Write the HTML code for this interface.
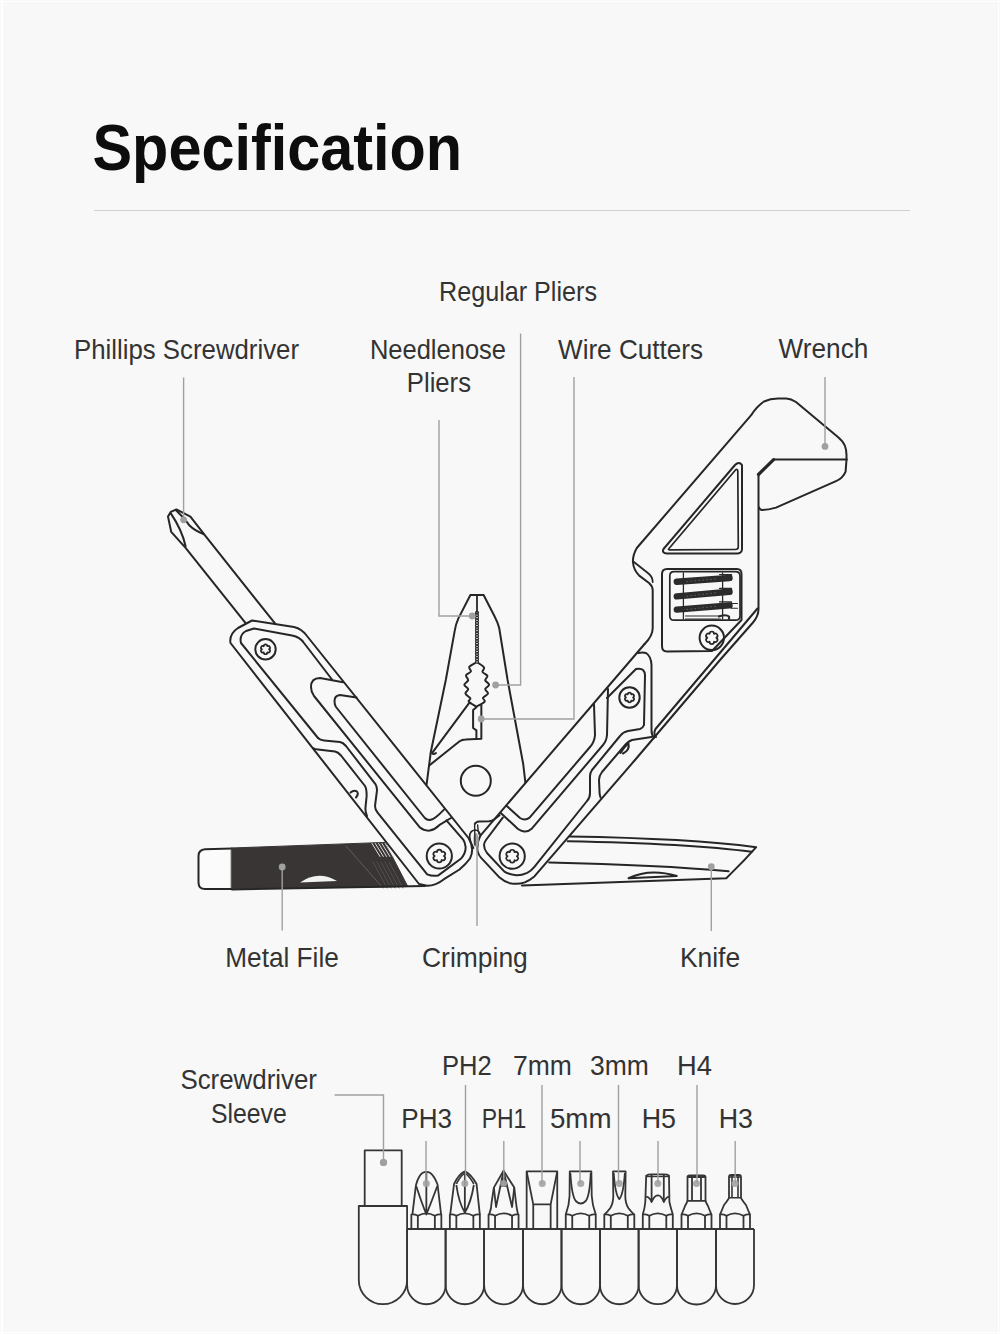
<!DOCTYPE html>
<html><head><meta charset="utf-8">
<style>
html,body{margin:0;padding:0;background:#f8f8f8;}
body{width:1000px;height:1334px;overflow:hidden;position:relative;}
svg{position:absolute;left:0;top:0;}
text{font-family:"Liberation Sans",sans-serif;}
</style></head><body>
<svg width="1000" height="1334" viewBox="0 0 1000 1334">
<rect x="0" y="0" width="1000" height="1334" fill="#f8f8f8"/>
<g id="frame" fill="#ffffff"><rect x="0" y="1" width="1000" height="1"/><rect x="1" y="0" width="2" height="1334"/><rect x="998" y="0" width="1" height="1334"/><rect x="0" y="1332" width="1000" height="1"/></g>
<!-- title -->
<text x="92.5" y="169.5" font-size="64.5" font-weight="700" fill="#0d0d0d" textLength="369.6" lengthAdjust="spacingAndGlyphs">Specification</text>
<line x1="94" y1="210.5" x2="910" y2="210.5" stroke="#cfcfcf" stroke-width="1.2"/>
<!-- labels -->
<g fill="#333333" font-size="27.5">
<text x="74.0" y="358.5" textLength="225.0" lengthAdjust="spacingAndGlyphs">Phillips Screwdriver</text>
<text x="369.9" y="358.5" textLength="136.1" lengthAdjust="spacingAndGlyphs">Needlenose</text>
<text x="406.8" y="391.5" textLength="64.2" lengthAdjust="spacingAndGlyphs">Pliers</text>
<text x="439.0" y="301" textLength="158.0" lengthAdjust="spacingAndGlyphs">Regular Pliers</text>
<text x="558.0" y="358.5" textLength="145.0" lengthAdjust="spacingAndGlyphs">Wire Cutters</text>
<text x="778.6" y="358" textLength="89.7" lengthAdjust="spacingAndGlyphs">Wrench</text>
<text x="225.3" y="967.4" textLength="113.5" lengthAdjust="spacingAndGlyphs">Metal File</text>
<text x="422.0" y="967.4" textLength="105.8" lengthAdjust="spacingAndGlyphs">Crimping</text>
<text x="679.9" y="967.4" textLength="60.2" lengthAdjust="spacingAndGlyphs">Knife</text>
<text x="180.4" y="1089" textLength="136.6" lengthAdjust="spacingAndGlyphs">Screwdriver</text>
<text x="211.0" y="1122.5" textLength="75.8" lengthAdjust="spacingAndGlyphs">Sleeve</text>
<text x="441.9" y="1075" textLength="49.8" lengthAdjust="spacingAndGlyphs">PH2</text>
<text x="513.0" y="1075" textLength="58.9" lengthAdjust="spacingAndGlyphs">7mm</text>
<text x="590.0" y="1075" textLength="58.9" lengthAdjust="spacingAndGlyphs">3mm</text>
<text x="677.1" y="1075" textLength="34.9" lengthAdjust="spacingAndGlyphs">H4</text>
<text x="401.3" y="1127.5" textLength="50.7" lengthAdjust="spacingAndGlyphs">PH3</text>
<text x="481.7" y="1127.5" textLength="44.7" lengthAdjust="spacingAndGlyphs">PH1</text>
<text x="549.9" y="1127.5" textLength="61.6" lengthAdjust="spacingAndGlyphs">5mm</text>
<text x="641.7" y="1127.5" textLength="34.3" lengthAdjust="spacingAndGlyphs">H5</text>
<text x="718.7" y="1127.5" textLength="34.3" lengthAdjust="spacingAndGlyphs">H3</text>
</g>
<!--TOOL-->
<g fill="none" stroke="#262626" stroke-width="2" stroke-linejoin="round" stroke-linecap="round">
<path d="M232,848.5 L205,849.2 Q198.5,849.7 198.5,856 L198.5,882.5 Q198.5,889 205,889 L232,889" fill="#fbfbfb"/>
<path d="M231.6,848 L385,842.4 L392,856 L407.8,886.5 L231.6,888.8 Z" fill="#3a3535" stroke="#3a3535" stroke-width="1"/>
<line x1="372.0" y1="843.5" x2="380.0" y2="856.5" stroke="#dcdcdc" stroke-width="1"/>
<line x1="375.3" y1="843.5" x2="383.3" y2="856.5" stroke="#dcdcdc" stroke-width="1"/>
<line x1="378.6" y1="843.5" x2="386.6" y2="856.5" stroke="#dcdcdc" stroke-width="1"/>
<line x1="381.9" y1="843.5" x2="389.9" y2="856.5" stroke="#dcdcdc" stroke-width="1"/>
<line x1="385.2" y1="843.5" x2="393.2" y2="856.5" stroke="#dcdcdc" stroke-width="1"/>
<line x1="388.5" y1="843.5" x2="396.5" y2="856.5" stroke="#dcdcdc" stroke-width="1"/>
<line x1="373" y1="862" x2="387" y2="888" stroke="#5a5555" stroke-width="0.8"/>
<line x1="377" y1="862" x2="391" y2="888" stroke="#5a5555" stroke-width="0.8"/>
<line x1="381" y1="862" x2="395" y2="888" stroke="#5a5555" stroke-width="0.8"/>
<line x1="385" y1="862" x2="399" y2="888" stroke="#5a5555" stroke-width="0.8"/>
<line x1="389" y1="862" x2="403" y2="888" stroke="#5a5555" stroke-width="0.8"/>
<path d="M346,846 L383,888" stroke="#666060" stroke-width="0.9"/>
<path d="M232,889.5 L425,886" />
<path d="M300,882.5 Q318,870 337,881 Z" fill="#f2f2f2" stroke="none"/>
<path d="M245.6,623.2 L185.6,547.8 L171.2,531.8 L168,516.6 L170.8,511.8 L176.4,509.4 L190.4,516.6 L204,534.2 L275.2,623.7" />
<path d="M170.8,513.4 Q182,530 185.6,546.2" />
<path d="M176,510.2 Q186,520 189,525 Q195,531 204,534.2" />
<path d="M419,884 L230.5,643 Q229,634 238,628 L252,620.5 L294,627 Q302,629 307,636 L468.5,838 Q475,848.5 470,858.5 Q466,864 459.5,869.5 L444,879.2 Q436,885.5 427.2,885.8 Z" fill="#f8f8f8"/>
<path d="M318,738 L241,643 Q239,635 246,631 L254,628.5 L292,635.5 Q300,637 304,643 L332,679.5" />
<path d="M318,738 Q320,740 324,740.4 L340,742 Q343,742.5 346,746 L375.6,784.4 Q377.5,788 376.8,792 L375,806 Q375,810 378,813.2 L427.2,874.4 Q432,876.5 438,875.6 L460.8,858.8 Q466,853 465.6,846.8 Q465,842 463.2,839.6 L446.4,820.4" />
<path d="M313,748 Q315,749.3 318,749.5 L335,751.5 Q338,752 341,755.5 L365,786 Q366.8,789 366.6,796.4 L365.4,808.4 Q365.5,813 367,816" />
<path d="M350.5,792.5 Q354,789.5 357,791.5 Q359,794 356,797.5" />
<path d="M343,682.2 L320,678 Q311,678 311,687 Q311,692 314,696 L420,827.6 Q424,831 429.6,830.6 Q435,829.5 439.2,825.2 L451,818" />
<path d="M356.5,697.5 L340,695 Q334.5,695.5 334.5,701 Q334.5,705 336,707 L424.8,818 Q427.5,820.5 430.8,819.8 Q435,819 444,809.6" />
<circle cx="265.5" cy="649.3" r="10.2"/>
<path d="M263.73,646.24 C263.80,643.73 267.20,643.73 267.27,646.24 C269.47,645.04 271.17,647.99 269.04,649.30 C271.17,650.61 269.47,653.56 267.27,652.36 C267.20,654.87 263.80,654.87 263.73,652.36 C261.53,653.56 259.83,650.61 261.96,649.30 C259.83,647.99 261.53,645.04 263.73,646.24 Z" stroke-width="1.7"/>
<circle cx="439.3" cy="856" r="12.6"/>
<path d="M436.99,852.00 C437.07,848.72 441.53,848.72 441.61,852.00 C444.49,850.43 446.72,854.29 443.92,856.00 C446.72,857.71 444.49,861.57 441.61,860.00 C441.53,863.28 437.07,863.28 436.99,860.00 C434.11,861.57 431.88,857.71 434.68,856.00 C431.88,854.29 434.11,850.43 436.99,852.00 Z" stroke-width="1.7"/>
<path d="M426.6,784.4 L430.8,752 L445.8,680 L454.8,630.4 Q455.5,625 458.4,618.4 L470.4,595 L483.6,595 L494.4,616 Q498,623 499.2,628 L507.6,680 L523.2,764 L525.6,784.4" />
<path d="M477,595 L477,612" stroke-width="1.8"/>
<ellipse cx="477" cy="612.50" rx="1.5" ry="1.25" stroke-width="1.2"/>
<ellipse cx="477" cy="615.10" rx="1.5" ry="1.25" stroke-width="1.2"/>
<ellipse cx="477" cy="617.70" rx="1.5" ry="1.25" stroke-width="1.2"/>
<ellipse cx="477" cy="620.30" rx="1.5" ry="1.25" stroke-width="1.2"/>
<ellipse cx="477" cy="622.90" rx="1.5" ry="1.25" stroke-width="1.2"/>
<ellipse cx="477" cy="625.50" rx="1.5" ry="1.25" stroke-width="1.2"/>
<ellipse cx="477" cy="628.10" rx="1.5" ry="1.25" stroke-width="1.2"/>
<ellipse cx="477" cy="630.70" rx="1.5" ry="1.25" stroke-width="1.2"/>
<ellipse cx="477" cy="633.30" rx="1.5" ry="1.25" stroke-width="1.2"/>
<ellipse cx="477" cy="635.90" rx="1.5" ry="1.25" stroke-width="1.2"/>
<ellipse cx="477" cy="638.50" rx="1.5" ry="1.25" stroke-width="1.2"/>
<ellipse cx="477" cy="641.10" rx="1.5" ry="1.25" stroke-width="1.2"/>
<ellipse cx="477" cy="643.70" rx="1.5" ry="1.25" stroke-width="1.2"/>
<ellipse cx="477" cy="646.30" rx="1.5" ry="1.25" stroke-width="1.2"/>
<ellipse cx="477" cy="648.90" rx="1.5" ry="1.25" stroke-width="1.2"/>
<ellipse cx="477" cy="651.50" rx="1.5" ry="1.25" stroke-width="1.2"/>
<ellipse cx="477" cy="654.10" rx="1.5" ry="1.25" stroke-width="1.2"/>
<ellipse cx="477" cy="656.70" rx="1.5" ry="1.25" stroke-width="1.2"/>
<ellipse cx="477" cy="659.30" rx="1.5" ry="1.25" stroke-width="1.2"/>
<ellipse cx="477" cy="661.90" rx="1.5" ry="1.25" stroke-width="1.2"/>
<path d="M475.00,663.20 C474.04,663.83 469.93,665.62 469.25,667.00 C468.57,668.38 471.44,670.12 470.90,671.50 C470.36,672.88 466.45,673.83 466.00,675.30 C465.55,676.77 468.48,678.73 468.20,680.30 C467.92,681.87 464.30,683.23 464.30,684.70 C464.30,686.17 468.02,687.63 468.20,689.10 C468.38,690.57 465.03,691.95 465.40,693.50 C465.77,695.05 469.85,697.03 470.40,698.40 C470.95,699.77 467.70,700.32 468.70,701.70 C469.70,703.08 475.12,705.87 476.40,706.70 M478.60,663.20 C479.52,663.93 483.45,666.13 484.10,667.60 C484.75,669.07 481.95,670.62 482.50,672.00 C483.05,673.38 486.95,674.52 487.40,675.90 C487.85,677.28 484.92,678.83 485.20,680.30 C485.48,681.77 489.10,683.23 489.10,684.70 C489.10,686.17 485.38,687.63 485.20,689.10 C485.02,690.57 488.37,692.03 488.00,693.50 C487.63,694.97 483.55,696.53 483.00,697.90 C482.45,699.27 485.80,700.23 484.70,701.70 C483.60,703.17 477.78,705.87 476.40,706.70" />
<path d="M469.25,702.8 L432,753.2 Q433.5,755 436,753" />
<path d="M429.6,765.2 L459.6,741.2 Q462,739.4 465.6,739.4 L481.35,738.8 L481.35,705" />
<path d="M476.4,707.2 L473.1,710 L473.1,728 L476.4,730.4 L476.4,738.8" />
<circle cx="475.8" cy="780.8" r="15"/>
<path d="M644.6,644 L480.4,835.6 Q477,842 477.4,850 Q478,855 482.8,859.6 L499.6,877.6 Q505,882.5 511.6,883.6 Q519,884.5 524.8,882.4 Q530,880 534.4,876.4 L635,760 L720,660 L753,622.5 Q758.5,616 758.5,609 L758.5,474" fill="#f8f8f8"/>
<path d="M638,653 Q643,652 646,653 Q651,656 651.5,665 L651.5,730 Q651.5,735 654,738" />
<path d="M607,698 L636,669 Q641,668 643,670 Q645,672 645,675 L644,725 Q643,728 640,729 L628,731 Q623,732 620,736 L592,770 Q590,773 590,776 L590,793 Q590,798 587,801 L534.4,866.8 Q531,871 527.2,872.8 Q521,875.5 516.4,875.2 Q509,874.5 504.4,871.6 L487,853 Q484,849 484,845 Q484.5,842 486,840 L502.8,817.6" />
<path d="M651.5,737 L632,740 Q629,741 626,744 L602,772 Q599,776 599,780 L599.6,793.6 Q600,796 600.5,797.5" />
<path d="M620.5,753 Q625,746 628.5,743.5 Q630,750 623,753.5" />
<path d="M594,704.5 L595,735 Q594.5,742 590,747 L529.6,817.6 Q525,821 520,818 L506.8,806" />
<path d="M608,689 L607,735 Q606.5,741 603,745 L532,828.4 Q528,832 524,831.5 Q521,831 518,829 L500.8,813" />
<circle cx="512.2" cy="856.2" r="12.6"/>
<path d="M509.89,852.20 C509.97,848.92 514.43,848.92 514.51,852.20 C517.39,850.63 519.62,854.49 516.82,856.20 C519.62,857.91 517.39,861.77 514.51,860.20 C514.43,863.48 509.97,863.48 509.89,860.20 C507.01,861.77 504.78,857.91 507.58,856.20 C504.78,854.49 507.01,850.63 509.89,852.20 Z" stroke-width="1.7"/>
<circle cx="629.5" cy="697.5" r="10.2"/>
<path d="M627.73,694.44 C627.80,691.93 631.20,691.93 631.27,694.44 C633.47,693.24 635.17,696.19 633.04,697.50 C635.17,698.81 633.47,701.76 631.27,700.56 C631.20,703.07 627.80,703.07 627.73,700.56 C625.53,701.76 623.83,698.81 625.96,697.50 C623.83,696.19 625.53,693.24 627.73,694.44 Z" stroke-width="1.7"/>
<path d="M656,737 Q653,733.5 655.5,729 L757.5,608.5" />
<path d="M474.8,824 Q476,821.6 479,821.4 L489.2,821.2 Q492,821 494,819.5 L499.6,815.2" />
<ellipse cx="476" cy="840" rx="2.8" ry="7" fill="#a9a9a9" stroke="none"/>
<path d="M480.5,836 Q479.5,830 475,830 Q469.8,830.5 469.6,836.5 Q469.8,842 473.5,848" stroke-width="1.7"/>
<path d="M474.6,825 L475,845 M477.6,825 Q478,831 479,834" stroke-width="1.4"/>
<path d="M644.6,644 Q652.7,636 652.7,628 L652.7,590 Q652.5,586 649,583 L639.2,575.6 Q633.5,570 632.9,561.8 Q632.8,555 636.8,548 L751.2,415.1 Q757,406 764,401.5 Q770,398.8 778,398.6 L786.3,398.4 Q791,398.6 796,402 L837.6,436.7 Q843,441 845,446 Q846.5,450 846.5,455 L846.5,459.6 L845.6,471.6 Q843,478 836,481.2 L776,507.6 Q768,510 761.6,510 Q759,509 759.2,507.6" />
<path d="M773.6,459.6 L846.8,459.6" />
<path d="M773.6,459.6 L758.5,474.5" stroke-width="3.2"/>
<path d="M633.3,561.5 L648.5,573.5 Q652.7,577 652.7,582" stroke-width="1.8"/>
<path d="M663.5,549 L735,465 Q739,461 742,465 L742,549 Q742,553 737.5,553.5 L667,553.5 Q661.5,553 663.5,549 Z" />
<path d="M669,548.5 L735.5,470 Q737.5,468.5 737.8,471 L738.3,547 Q738.2,549.5 735.5,549.5 L670.5,549.8 Q667.5,550 669,548.5 Z" stroke-width="1.7"/>
<path d="M662,574 Q662,569 667,569 L737,569 Q741.5,569 741.5,574 L741.5,620 L712,651 L667,651.5 Q662,651.5 662,646 Z" />
<path d="M669.8,576 Q669.8,571.6 674,571.6 L735.5,571.6 Q740,571.6 740,576 L740,616 Q740,620.2 735.5,620.2 L674,620.2 Q669.8,620.2 669.8,616 Z" stroke-width="1.7"/>
<path d="M683.4,573 L683.4,619 M722.6,573 L722.6,619" stroke="#2b2b2b" stroke-width="1.3"/>
<path d="M685.5,616 L720.5,616 M685.5,619 L720.5,619" stroke="#2b2b2b" stroke-width="1"/>
<path d="M676.8,581.8 L729.5,578.0" stroke="#2b2b2b" stroke-width="6.4" stroke-linecap="round"/>
<path d="M686.8,581.5999999999999 L717.5,578.8" stroke="#6a6a6a" stroke-width="0.8" stroke-dasharray="1,3"/>
<path d="M719.5,574.5 L731.5,574.5 L731.5,580.0" stroke="#2b2b2b" stroke-width="1.2"/>
<path d="M676.8,596.4 L729.5,591.8" stroke="#2b2b2b" stroke-width="6.4" stroke-linecap="round"/>
<path d="M686.8,596.1999999999999 L717.5,592.5999999999999" stroke="#6a6a6a" stroke-width="0.8" stroke-dasharray="1,3"/>
<path d="M719.5,588.3 L731.5,588.3 L731.5,593.8" stroke="#2b2b2b" stroke-width="1.2"/>
<path d="M676.8,609.6 L729.5,605.4" stroke="#2b2b2b" stroke-width="6.4" stroke-linecap="round"/>
<path d="M686.8,609.4 L717.5,606.1999999999999" stroke="#6a6a6a" stroke-width="0.8" stroke-dasharray="1,3"/>
<path d="M719.5,601.9 L731.5,601.9 L731.5,607.4" stroke="#2b2b2b" stroke-width="1.2"/>
<path d="M719,616.5 Q726,614 729,616.5 L729,619" stroke="#2b2b2b" stroke-width="2.2"/>
<path d="M731.5,603.5 L737.5,603.5 M731.5,608.2 L737.5,608.2" stroke="#2b2b2b" stroke-width="1.1"/>
<circle cx="711.8" cy="637.8" r="12.2"/>
<path d="M709.56,633.91 C709.64,630.73 713.96,630.73 714.04,633.91 C716.84,632.39 719.00,636.14 716.29,637.80 C719.00,639.46 716.84,643.21 714.04,641.69 C713.96,644.87 709.64,644.87 709.56,641.69 C706.76,643.21 704.60,639.46 707.31,637.80 C704.60,636.14 706.76,632.39 709.56,633.91 Z" stroke-width="1.7"/>
<path d="M569.9,836.6 Q690,838.5 756.2,847.2 Q745,860 730.9,873.6 L726.3,878.2 L522,885.5" />
<path d="M567.6,841.2 Q690,843.5 751.6,851.8" />
<path d="M549.2,862.5 Q660,865 728.6,871.3" />
<path d="M628.5,878.2 Q650,868 676.8,876 Z" />
</g>
<!--/TOOL-->
<!--BITS-->
<g fill="none" stroke="#353535" stroke-width="1.8" stroke-linejoin="round">
<rect x="364.7" y="1150.4" width="37" height="55.6" fill="#f8f8f8"/>
<path d="M358.8,1206 L407.1,1206 L407.1,1280 A24.15,24.15 0 0 1 358.8,1280 Z" fill="#f8f8f8"/>
<path d="M407.1,1229 L407.1,1285 A19.25,19.25 0 0 0 445.6,1285 L445.6,1229"/>
<path d="M445.6,1229 L445.6,1285 A19.25,19.25 0 0 0 484.1,1285 L484.1,1229"/>
<path d="M484.1,1229 L484.1,1285 A19.44999999999999,19.44999999999999 0 0 0 523,1285 L523,1229"/>
<path d="M523,1229 L523,1285 A19.25,19.25 0 0 0 561.5,1285 L561.5,1229"/>
<path d="M561.5,1229 L561.5,1285 A19.25,19.25 0 0 0 600,1285 L600,1229"/>
<path d="M600,1229 L600,1285 A19.30000000000001,19.30000000000001 0 0 0 638.6,1285 L638.6,1229"/>
<path d="M638.6,1229 L638.6,1285 A19.19999999999999,19.19999999999999 0 0 0 677,1285 L677,1229"/>
<path d="M677,1229 L677,1285 A19.5,19.5 0 0 0 716,1285 L716,1229"/>
<path d="M716,1229 L716,1285 A19.0,19.0 0 0 0 754,1285 L754,1229"/>
<path d="M407.1,1229 L754,1229"/>
<path d="M411.35,1229 L411.35,1214.6 Q414.35,1214 417.85,1215.8 Q426.35,1211 434.85,1215.8 Q438.35,1214 441.35,1214.6 L441.35,1229"/><path d="M417.85,1215.8 L417.85,1229 M434.85,1215.8 L434.85,1229"/>
<path d="M412.35,1214.8 L415.95000000000005,1185.2 Q418.35,1176 422.35,1173 Q426.35,1170.8 430.35,1173 Q434.35,1176 437.55,1184.5 L441.15000000000003,1214.8"/>
<path d="M426.35,1171.4 L426.35,1214.5 M416.15000000000003,1186 Q421.35,1202 426.35,1214.5 Q431.35,1202 437.35,1186"/>
<path d="M449.85,1229 L449.85,1214.6 Q452.85,1214 456.35,1215.8 Q464.85,1211 473.35,1215.8 Q476.85,1214 479.85,1214.6 L479.85,1229"/><path d="M456.35,1215.8 L456.35,1229 M473.35,1215.8 L473.35,1229"/>
<path d="M450.15000000000003,1214.8 L454.05,1184 Q458.85,1174 464.85,1171.4 Q470.85,1174 476.55,1184 L479.85,1214.8"/>
<path d="M456.35,1184 Q460.85,1175 464.85,1173.2 Q468.85,1175 473.85,1184" stroke-width="1.6"/>
<path d="M464.85,1171.4 L464.85,1212 M456.35,1185 Q458.85,1203 464.85,1212.5 Q470.85,1203 473.85,1185"/>
<path d="M488.55,1229 L488.55,1214.6 Q491.55,1214 495.05,1215.8 Q503.55,1211 512.05,1215.8 Q515.55,1214 518.55,1214.6 L518.55,1229"/><path d="M495.05,1215.8 L495.05,1229 M512.05,1215.8 L512.05,1229"/>
<path d="M489.05,1214.8 Q491.55,1208 491.55,1203 L493.85,1187.6 L503.55,1170.8 L514.25,1187.6 L516.05,1203 Q516.55,1208 518.05,1214.8"/>
<path d="M503.55,1170.8 L496.05,1207 L493.85,1187.6 M503.55,1170.8 L512.05,1207 L514.25,1187.6 M501.55,1186 L505.55,1186 L503.55,1178 Z"/>
<path d="M526.65,1229 L526.65,1171.4 L557.25,1171.4 L557.25,1229"/>
<path d="M526.65,1171.4 L533.25,1204.4 L550.65,1204.4 L557.25,1171.4"/>
<path d="M533.25,1204.4 L533.25,1229 M550.65,1204.4 L550.65,1229"/>
<path d="M565.75,1229 L565.75,1214.6 Q568.75,1214 572.25,1215.8 Q580.75,1211 589.25,1215.8 Q592.75,1214 595.75,1214.6 L595.75,1229"/><path d="M572.25,1215.8 L572.25,1229 M589.25,1215.8 L589.25,1229"/>
<path d="M565.75,1214.6 Q569.25,1205 569.55,1196 L569.75,1171.4 L591.35,1171.4 L591.75,1196 Q592.25,1205 595.75,1214.6"/>
<path d="M570.35,1173 Q571.75,1196 575.75,1201 Q580.75,1206 585.75,1201 Q589.75,1196 590.75,1173"/>
<path d="M604.3,1229 L604.3,1214.6 Q607.3,1214 610.8,1215.8 Q619.3,1211 627.8,1215.8 Q631.3,1214 634.3,1214.6 L634.3,1229"/><path d="M610.8,1215.8 L610.8,1229 M627.8,1215.8 L627.8,1229"/>
<path d="M604.3,1214.6 Q607.3,1212 610.3,1208 Q613.3,1203 613.3,1196 L613.0,1171.4 L625.5999999999999,1171.4 L625.3,1196 Q625.3,1203 628.3,1208 Q631.3,1212 634.3,1214.6"/>
<path d="M613.6999999999999,1173 Q615.3,1195 619.3,1199 Q623.3,1195 624.9,1173"/>
<path d="M642.8,1229 L642.8,1214.6 Q645.8,1214 649.3,1215.8 Q657.8,1211 666.3,1215.8 Q669.8,1214 672.8,1214.6 L672.8,1229"/><path d="M649.3,1215.8 L649.3,1229 M666.3,1215.8 L666.3,1229"/>
<path d="M642.8,1214.6 Q644.8,1208 645.3,1202 L646.1999999999999,1175.6 Q647.8,1174.4 651.8,1174.4 L663.8,1174.4 Q667.8,1174.4 669.0,1175.6 L669.4,1202 Q670.8,1208 672.8,1214.6"/>
<path d="M651.5999999999999,1175 L651.5999999999999,1202 M663.8,1175 L663.8,1202 M646.0,1197 Q648.8,1196 651.5999999999999,1202 Q654.8,1195 657.8,1195.5 Q660.8,1195 663.8,1202 Q666.8,1196 669.4,1197"/>
<path d="M646.1999999999999,1176.5 L669.0,1176.5" stroke-width="1.4"/>
<path d="M681.5,1229 L681.5,1214.6 Q684.5,1214 688.0,1215.8 Q696.5,1211 705.0,1215.8 Q708.5,1214 711.5,1214.6 L711.5,1229"/><path d="M688.0,1215.8 L688.0,1229 M705.0,1215.8 L705.0,1229"/>
<path d="M681.5,1214.6 Q683.5,1210 685.0,1206 Q687.5,1202 687.5,1200 L687.5,1177 Q687.5,1175.4 689.5,1175.4 L703.5,1175.4 Q705.5,1175.4 705.5,1177 L705.5,1200 Q705.5,1202 708.0,1206 Q709.5,1210 711.5,1214.6"/>
<path d="M692.0,1176 L692.0,1200.5 M701.0,1176 L701.0,1200.5 M687.5,1200.8 L705.5,1200.8 M687.5,1177 L705.5,1177"/>
<path d="M720.0,1229 L720.0,1214.6 Q723.0,1214 726.5,1215.8 Q735.0,1211 743.5,1215.8 Q747.0,1214 750.0,1214.6 L750.0,1229"/><path d="M726.5,1215.8 L726.5,1229 M743.5,1215.8 L743.5,1229"/>
<path d="M720.0,1214.6 Q722.0,1210 724.0,1205 Q728.0,1200 729.0,1197.8 L729.0,1177 Q729.0,1175 731.0,1175 L739.0,1175 Q741.0,1175 741.0,1177 L741.0,1197.8 Q742.0,1200 746.0,1205 Q748.0,1210 750.0,1214.6"/>
<path d="M732.0,1176 L732.0,1197.5 M738.0,1176 L738.0,1197.5 M729.0,1197.8 L741.0,1197.8 M729.0,1177 L741.0,1177" stroke-width="1.6"/>
<circle cx="426.35" cy="1183.5" r="3.5" fill="#a3a3a3" stroke="none" opacity="0.9"/>
<circle cx="464.85" cy="1183.5" r="3.5" fill="#a3a3a3" stroke="none" opacity="0.9"/>
<circle cx="503.55" cy="1183.5" r="3.5" fill="#a3a3a3" stroke="none" opacity="0.9"/>
<circle cx="542.25" cy="1183.5" r="3.5" fill="#a3a3a3" stroke="none" opacity="0.9"/>
<circle cx="580.75" cy="1183.5" r="3.5" fill="#a3a3a3" stroke="none" opacity="0.9"/>
<circle cx="619.3" cy="1183.5" r="3.5" fill="#a3a3a3" stroke="none" opacity="0.9"/>
<circle cx="657.8" cy="1183.5" r="3.5" fill="#a3a3a3" stroke="none" opacity="0.9"/>
<circle cx="696.5" cy="1183.5" r="3.5" fill="#a3a3a3" stroke="none" opacity="0.9"/>
<circle cx="735.0" cy="1183.5" r="3.5" fill="#a3a3a3" stroke="none" opacity="0.9"/>
<circle cx="383.5" cy="1162.5" r="3.6" fill="#999" stroke="none"/>
</g>
<!--/BITS-->
<!--LEADERS-->
<g fill="none" stroke="#a0a0a0" stroke-width="1.4">
<path d="M183.6,377.5 L183.6,519.8"/>
<circle cx="183.6" cy="519.8" r="3.4" fill="#a0a0a0" stroke="none"/>
<path d="M439,420 L439,616 L472.2,616"/>
<circle cx="472.2" cy="616" r="3.4" fill="#a0a0a0" stroke="none"/>
<path d="M520.6,333.5 L520.6,685 L495.6,685"/>
<circle cx="495.6" cy="685" r="3.4" fill="#a0a0a0" stroke="none"/>
<path d="M574,377 L574,719 L481.2,719"/>
<circle cx="481.2" cy="719" r="3.4" fill="#a0a0a0" stroke="none"/>
<path d="M825,377 L825,446.4"/>
<circle cx="825" cy="446.4" r="3.4" fill="#a0a0a0" stroke="none"/>
<path d="M282.2,867 L282.2,930.5"/>
<circle cx="282.2" cy="867" r="3.4" fill="#a0a0a0" stroke="none"/>
<path d="M477,836 L477,926"/>
<path d="M711.3,866.7 L711.3,931"/>
<circle cx="711.3" cy="866.7" r="3.4" fill="#a0a0a0" stroke="none"/>
<path d="M334.6,1095 L383.5,1095 L383.5,1162.5"/>
<circle cx="383.5" cy="1162.5" r="3.4" fill="#a0a0a0" stroke="none"/>
<path d="M426,1141 L426,1183.5"/>
<path d="M465.5,1085 L465.5,1183.5"/>
<path d="M503.8,1141 L503.8,1183.5"/>
<path d="M542,1085 L542,1183.5"/>
<path d="M580,1141 L580,1183.5"/>
<path d="M618.5,1085 L618.5,1183.5"/>
<path d="M658,1141 L658,1183.5"/>
<path d="M697,1085 L697,1183.5"/>
<path d="M735.2,1141 L735.2,1183.5"/>
</g>
<!--/LEADERS-->
</svg>
</body></html>
